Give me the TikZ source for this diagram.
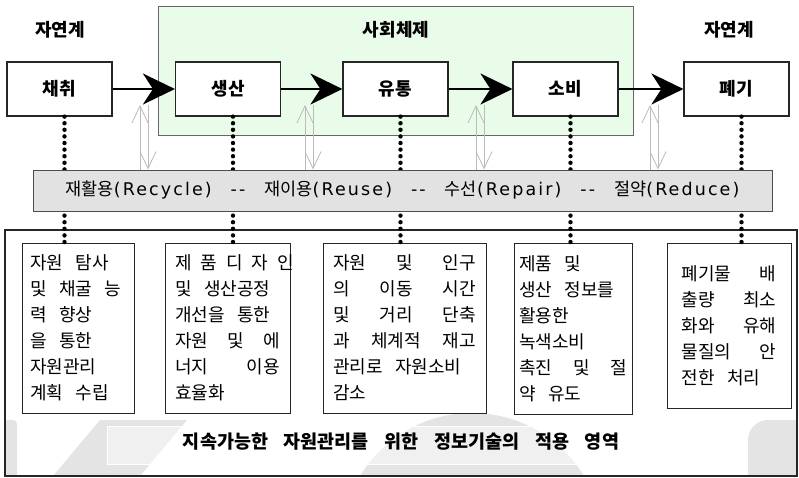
\documentclass[tikz,border=0pt]{standalone}
\usepackage{fontspec}
\setmainfont{Noto Sans CJK KR}
\newfontfamily\latfont[LetterSpace=12]{DejaVu Sans}
\usetikzlibrary{arrows.meta}
\definecolor{socgreen}{HTML}{E9FBE9}
\definecolor{bandgray}{HTML}{E2E2E2}
\definecolor{wmgray}{HTML}{E4E4E4}
\definecolor{dblgray}{HTML}{BBBBBB}
\newcommand\jline[2]{\makebox[#1][s]{\spaceskip=0.5em plus 1fil\relax#2}}
\newcommand\lt[1]{{\latfont #1}}
\newcommand\widesp{\spaceskip=0.7em\relax}
\newcommand\footsp{\spaceskip=0.85em\relax}
\begin{document}
\begin{tikzpicture}[x=1pt,y=-1pt,
  stage/.style={draw=black!85, line width=1.2pt, fill=white, minimum width=105pt,
    minimum height=54pt, inner sep=0pt, font=\fontsize{18}{22}\selectfont\bfseries},
  region/.style={inner sep=0pt, font=\fontsize{18}{22}\selectfont\bfseries},
  flow/.style={line width=2pt, -{Stealth[length=32pt,width=31pt,inset=10pt]}},
  dbl/.style={draw=dblgray, line width=0.8pt},
  dblhead/.style={-{Straight Barb[length=17pt,width=16pt]}},
  dots/.style={line width=4.4pt, line cap=round, dash pattern=on 0pt off 6.6pt},
  bandbox/.style={draw=black!70, line width=1pt, fill=bandgray, minimum width=739pt,
    minimum height=41pt, inner sep=0pt},
  socbox/.style={draw=black!60, line width=1pt, fill=socgreen, minimum width=475pt,
    minimum height=129pt, inner sep=0pt},
  outerbox/.style={draw=black!85, line width=1.2pt, minimum width=792pt,
    minimum height=246pt, inner sep=0pt},
  info/.style={draw=black!85, line width=1pt, fill=white, align=left, inner sep=0pt,
    font=\fontsize{18}{26}\selectfont},
]
\fill[white] (0,0) rectangle (799,477);
\useasboundingbox (0,0) rectangle (799,477);

% faint background watermark
\begin{scope}
  \clip (5,230) rectangle (797,476);
  \fill[wmgray, rounded corners=4pt] (0,420) rectangle (17,482);
  \fill[wmgray] (100,420) -- (187,420) -- (140,476) -- (53,476) -- cycle;
  \fill[wmgray] (472,544) circle (131);
  \fill[wmgray, rounded corners=20pt] (748,420) rectangle (830,510);
  \fill[white, opacity=0.45] (107,426) rectangle (583,464);
  \draw[white, line width=1pt] (107,426) rectangle (583,464);
\end{scope}

\node[outerbox] (outer) at (401,353) {};
\node[socbox] (soc) at (395.5,70.5) {};

\node[region] (nat1) at (60,30) {자연계};
\node[region] (socl) at (396,30) {사회체제};
\node[region] (nat2) at (729,30) {자연계};

\node[stage] (s1) at (59.5,89) {채취};
\node[stage] (s2) at (228,89) {생산};
\node[stage] (s3) at (395.5,89) {유통};
\node[stage] (s4) at (565.5,89) {소비};
\node[stage] (s5) at (736.5,89) {폐기};

\node[info, minimum width=112pt, minimum height=170pt, text width=96pt] (b1) at (78,328)
  {\widesp 자원 탐사\\및 채굴 능\\력 향상\\을 통한\\자원관리\\계획 수립};
\node[info, minimum width=125pt, minimum height=170pt, text width=105pt] (b2) at (227.5,328)
  {\widesp\jline{105pt}{제 품 디 자 인}\\및 생산공정\\개선을 통한\\\jline{105pt}{자원 및 에}\\\jline{105pt}{너지 이용}\\효율화};
\node[info, minimum width=163pt, minimum height=170pt, text width=143pt] (b3) at (404.5,328)
  {\widesp\jline{143pt}{자원 및 인구}\\\jline{143pt}{의 이동 시간}\\\jline{143pt}{및 거리 단축}\\\jline{143pt}{과 체계적 재고}\\관리로 자원소비\\감소};
\node[info, minimum width=118pt, minimum height=171pt, text width=108pt] (b4) at (573,328.5)
  {\widesp 제품 및\\생산 정보를\\활용한\\녹색소비\\\jline{108pt}{촉진 및 절}\\약 유도};
\node[info, minimum width=124pt, minimum height=165pt, text width=95pt] (b5) at (729,325.5)
  {\widesp\jline{95pt}{폐기물 배}\\\jline{95pt}{출량 최소}\\\jline{95pt}{화와 유해}\\\jline{95pt}{물질의 안}\\전한 처리};

% dotted links
\foreach \i in {1,...,5} {
  \coordinate (d\i) at ([xshift=5pt]s\i.south);
  \draw[dots] (d\i) -- (d\i |- b\i.north);
}

\node[bandbox] (rband) at (402.5,190.5) {};
\node[inner sep=0pt, font=\fontsize{17.5}{20}\selectfont] (bandtxt) at ([xshift=0pt]rband.center)
  {재활용\lt{(Recycle)}\hspace{19pt}\lt{-{}-}\hspace{19pt}재이용\lt{(Reuse)}\hspace{19pt}\lt{-{}-}\hspace{19pt}수선\lt{(Repair)}\hspace{19pt}\lt{-{}-}\hspace{19pt}절약\lt{(Reduce)}};

% light double arrows
\foreach \c [count=\i] in {144,309,480,654} {
  \coordinate (gu\i) at (\c-4,105);
  \coordinate (gd\i) at (\c+4,105);
  \draw[dbl,dblhead] (rband.north -| gu\i) -- (gu\i);
  \draw[dbl,dblhead] (gd\i) -- (rband.north -| gd\i);
}

% main flow
\draw[flow] (s1.east) -- (s2.west);
\draw[flow] (s2.east) -- (s3.west);
\draw[flow] (s3.east) -- (s4.west);
\draw[flow] (s4.east) -- (s5.west);

\node[inner sep=0pt, font=\fontsize{18.5}{22}\selectfont\bfseries] (foot) at (401,442)
  {\footsp 지속가능한 자원관리를 위한 정보기술의 적용 영역};
\end{tikzpicture}
\end{document}
